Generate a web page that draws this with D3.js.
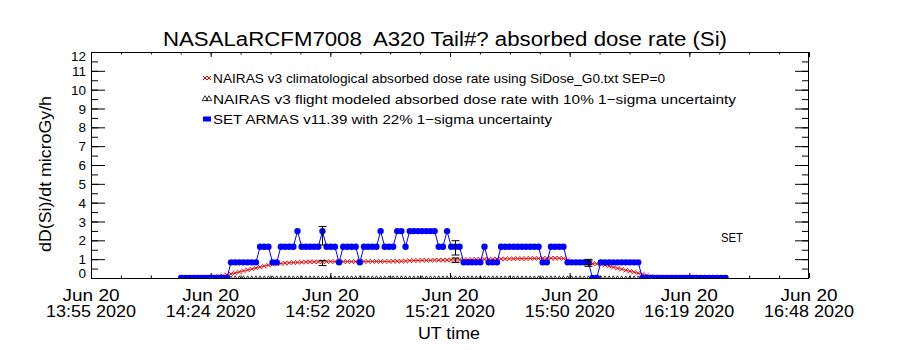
<!DOCTYPE html>
<html>
<head>
<meta charset="utf-8">
<script src="https://cdn.jsdelivr.net/npm/d3@7"></script>
<style>
  html, body { margin: 0; padding: 0; background: #fff; }
  svg { display: block; }
  text { font-family: "Liberation Sans", "DejaVu Sans", sans-serif; fill: #000; }
</style>
</head>
<body>
<svg id="chart" width="900" height="350"></svg>
<script>
// ---- Data -------------------------------------------------------------
// One record per minute, starting 14:17 UT (minutes of day)
const sampleStart = 14 * 60 + 17;
const sampleStep = 1;

// SET ARMAS absorbed dose rate (microGy/h)
const setDose = [
  0, 0, 0, 0, 0, 0, 0, 0, 0, 0, 0, 0,
  0.83, 0.83, 0.83, 0.83, 0.83, 0.83, 0.83,
  1.66, 1.66, 1.66,
  0.83, 0.83,
  1.66, 1.66, 1.66, 1.66,
  2.49,
  1.66, 1.66, 1.66, 1.66, 1.66,
  2.49,
  1.66, 1.66, 1.66,
  0.83,
  1.66, 1.66, 1.66, 1.66,
  0.83,
  1.66, 1.66, 1.66, 1.66,
  2.49,
  1.66, 1.66, 1.66,
  2.49, 2.49,
  1.66,
  2.49, 2.49, 2.49, 2.49, 2.49, 2.49, 2.49,
  1.66, 1.66,
  2.49,
  1.66, 1.66, 1.66,
  0.83, 0.83, 0.83, 0.83, 0.83,
  1.66,
  0.83, 0.83, 0.83,
  1.66, 1.66, 1.66, 1.66, 1.66, 1.66, 1.66, 1.66, 1.66, 1.66,
  0.83, 0.83,
  1.66, 1.66, 1.66, 1.66,
  0.83, 0.83, 0.83, 0.83, 0.83, 0.83,
  0, 0,
  0.83, 0.83, 0.83, 0.83, 0.83, 0.83, 0.83, 0.83, 0.83, 0.83,
  0, 0, 0, 0, 0, 0, 0, 0, 0, 0, 0, 0, 0, 0, 0, 0, 0, 0, 0, 0, 0
];

// NAIRAS v3 climatological absorbed dose rate (microGy/h)
const nairasClim = [
  0.04, 0.04, 0.04, 0.05, 0.05, 0.05, 0.05, 0.06, 0.07, 0.09,
  0.12, 0.17, 0.22, 0.27, 0.32, 0.38, 0.43, 0.48, 0.53, 0.58, 0.63, 0.68, 0.72,
  0.75, 0.77, 0.79, 0.81, 0.82, 0.83, 0.84, 0.85,
  0.86, 0.86, 0.86, 0.86, 0.87, 0.87, 0.87, 0.87, 0.87, 0.87, 0.87, 0.87,
  0.88, 0.88, 0.88, 0.88, 0.88, 0.88, 0.88, 0.88, 0.89, 0.89, 0.89, 0.90,
  0.92, 0.93, 0.93, 0.94, 0.94, 0.94, 0.95, 0.95, 0.95, 0.95, 0.96, 0.96, 0.96, 0.97,
  0.98, 0.98, 0.99, 0.99, 1.00, 1.00, 1.00, 1.01, 1.01, 1.01,
  1.02, 1.02, 1.03, 1.03, 1.03, 1.04, 1.04, 1.04, 1.05, 1.05,
  1.05, 1.05, 1.05, 1.04,
  0.95, 0.86, 0.84, 0.82, 0.80, 0.79, 0.77, 0.75, 0.73, 0.68, 0.63,
  0.57, 0.52, 0.47, 0.41, 0.36, 0.31, 0.26, 0.20, 0.15, 0.10, 0.07,
  0.05, 0.05, 0.05, 0.05, 0.05, 0.05, 0.05, 0.05, 0.05,
  0.04, 0.04, 0.04, 0.04, 0.04, 0.04, 0.04, 0.04
];

// NAIRAS v3 flight modeled absorbed dose rate (microGy/h)
const nairasFlight = [
  0, 0, 0, 0, 0, 0, 0, 0, 0, 0, 0, 0, 0, 0, 0, 0, 0, 0, 0, 0, 0, 0,
  0, 0, 0, 0, 0, 0, 0, 0, 0, 0, 0, 0, 0, 0, 0, 0, 0, 0, 0, 0, 0, 0,
  0, 0, 0, 0, 0, 0, 0, 0, 0, 0, 0, 0, 0, 0, 0, 0, 0, 0, 0, 0, 0, 0,
  0, 0, 0, 0, 0, 0, 0, 0, 0, 0, 0, 0, 0, 0, 0, 0, 0, 0, 0, 0, 0, 0,
  0, 0, 0, 0, 0, 0, 0, 0, 0, 0, 0, 0, 0, 0, 0, 0, 0, 0, 0, 0, 0, 0,
  0, 0, 0, 0, 0, 0, 0, 0, 0, 0, 0, 0, 0, 0, 0, 0, 0, 0, 0, 0, 0, 0
];

// Uncertainty bars, drawn at these record indices
const errIndex = [34, 66, 98];
const setErrLow = [1.75, 1.22, 0.62];
const setErrHigh = [2.73, 1.98, 0.99];
const flightErrLow = [0.66, 0.82, 0.72];
const flightErrHigh = [0.93, 1.06, 0.90];

// Axis range (minutes of day) and tick labels
const timeStart = 13 * 60 + 55 + 18 / 60;
const timeEnd = 16 * 60 + 48 + 6 / 60;
const xTickDates = ["Jun 20", "Jun 20", "Jun 20", "Jun 20", "Jun 20", "Jun 20", "Jun 20"];
const xTickTimes = ["13:55 2020", "14:24 2020", "14:52 2020", "15:21 2020", "15:50 2020", "16:19 2020", "16:48 2020"];
const yTickValues = [0, 1, 2, 3, 4, 5, 6, 7, 8, 9, 10, 11, 12];

const titleText = "NASALaRCFM7008  A320 Tail#? absorbed dose rate (Si)";
const legendLabels = [
  "NAIRAS v3 climatological absorbed dose rate using SiDose_G0.txt SEP=0",
  "NAIRAS v3 flight modeled absorbed dose rate with 10% 1\u2212sigma uncertainty",
  "SET ARMAS v11.39 with 22% 1\u2212sigma uncertainty"
];

// ---- Layout -----------------------------------------------------------
const plot = { left: 91, right: 809, top: 52, bottom: 278 };
const svg = d3.select("#chart");

const x = d3.scaleLinear().domain([timeStart, timeEnd]).range([plot.left, plot.right]);
const y = d3.scaleLinear().domain([0, 12]).range([plot.bottom, plot.top]);

const sampleTime = i => sampleStart + i * sampleStep;

svg.append("defs").append("clipPath").attr("id", "plotClip")
  .append("rect")
  .attr("x", plot.left).attr("y", plot.top)
  .attr("width", plot.right - plot.left).attr("height", plot.bottom - plot.top);

// ---- Axes -------------------------------------------------------------
const nMajor = xTickTimes.length - 1;
const xMajor = d3.range(nMajor + 1).map(i => timeStart + i * (timeEnd - timeStart) / nMajor);
const xMinor = d3.range(nMajor * 4 + 1).map(i => timeStart + i * (timeEnd - timeStart) / (nMajor * 4));
const yMinor = d3.range(0, 12.01, 0.5);

function styleAxis(g) {
  g.select(".domain").remove();
  g.selectAll("line").attr("stroke", "#000").attr("stroke-width", 1);
  g.selectAll("text").remove();
}

svg.append("g").attr("transform", `translate(0,${plot.bottom})`)
  .call(d3.axisTop(x).tickValues(xMinor).tickSize(2.5)).call(styleAxis);
svg.append("g").attr("transform", `translate(0,${plot.bottom})`)
  .call(d3.axisTop(x).tickValues(xMajor).tickSize(5)).call(styleAxis);
svg.append("g").attr("transform", `translate(0,${plot.top})`)
  .call(d3.axisBottom(x).tickValues(xMinor).tickSize(2.5)).call(styleAxis);
svg.append("g").attr("transform", `translate(0,${plot.top})`)
  .call(d3.axisBottom(x).tickValues(xMajor).tickSize(5)).call(styleAxis);

svg.append("g").attr("transform", `translate(${plot.left},0)`)
  .call(d3.axisRight(y).tickValues(yMinor).tickSize(7)).call(styleAxis);
svg.append("g").attr("transform", `translate(${plot.left},0)`)
  .call(d3.axisRight(y).tickValues(yTickValues).tickSize(14)).call(styleAxis);
svg.append("g").attr("transform", `translate(${plot.right},0)`)
  .call(d3.axisLeft(y).tickValues(yMinor).tickSize(7)).call(styleAxis);
svg.append("g").attr("transform", `translate(${plot.right},0)`)
  .call(d3.axisLeft(y).tickValues(yTickValues).tickSize(14)).call(styleAxis);

svg.append("rect")
  .attr("x", plot.left + 0.5).attr("y", plot.top + 0.5)
  .attr("width", plot.right - plot.left - 1).attr("height", plot.bottom - plot.top)
  .attr("fill", "none").attr("stroke", "#000").attr("stroke-width", 1);

// y tick labels (kept inside the frame height at the ends)
svg.append("g").selectAll("text").data(yTickValues).join("text")
  .attr("x", 86)
  .attr("y", d => Math.min(273, Math.max(56, y(d))) + 5)
  .attr("text-anchor", "end")
  .attr("font-size", 13.5)
  .text(d => d);

// x tick labels, two lines each
const xl = svg.append("g");
xl.selectAll("text.date").data(xMajor).join("text").attr("class", "date")
  .attr("x", d => x(d)).attr("y", 301)
  .attr("text-anchor", "middle").attr("font-size", 16)
  .attr("textLength", 57).attr("lengthAdjust", "spacingAndGlyphs")
  .text((d, i) => xTickDates[i]);
xl.selectAll("text.time").data(xMajor).join("text").attr("class", "time")
  .attr("x", d => x(d)).attr("y", 317)
  .attr("text-anchor", "middle").attr("font-size", 16)
  .attr("textLength", 90).attr("lengthAdjust", "spacingAndGlyphs")
  .text((d, i) => xTickTimes[i]);

svg.append("text")
  .attr("x", 449).attr("y", 339)
  .attr("text-anchor", "middle").attr("font-size", 16)
  .attr("textLength", 62).attr("lengthAdjust", "spacingAndGlyphs")
  .text("UT time");

svg.append("text")
  .attr("transform", "translate(51,174) rotate(-90)")
  .attr("text-anchor", "middle").attr("font-size", 16)
  .attr("textLength", 156).attr("lengthAdjust", "spacingAndGlyphs")
  .text("dD(Si)/dt microGy/h");

svg.append("text")
  .attr("x", 445).attr("y", 46)
  .attr("text-anchor", "middle").attr("font-size", 20)
  .style("white-space", "pre")
  .attr("textLength", 564).attr("lengthAdjust", "spacingAndGlyphs")
  .text(titleText);

// ---- Series -----------------------------------------------------------
const data = d3.range(setDose.length).map(i => ({
  t: sampleTime(i), set: setDose[i], clim: nairasClim[i], flight: nairasFlight[i]
}));

const layer = svg.append("g").attr("clip-path", "url(#plotClip)");

// climatological: red line with x symbols
layer.append("path").datum(data)
  .attr("d", d3.line().x(d => x(d.t)).y(d => y(d.clim)))
  .attr("fill", "none").attr("stroke", "#e00000").attr("stroke-width", 0.8);
layer.append("g").selectAll("path").data(data).join("path")
  .attr("transform", d => `translate(${x(d.t)},${y(d.clim)})`)
  .attr("d", "M-2.2,-2.2L2.2,2.2M-2.2,2.2L2.2,-2.2")
  .attr("stroke", "#e00000").attr("stroke-width", 0.9).attr("fill", "none");

// flight modeled: black triangles
const tri = d3.symbol().type(d3.symbolTriangle).size(6);
layer.append("g").selectAll("path").data(data).join("path")
  .attr("transform", d => `translate(${x(d.t)},${y(d.flight)})`)
  .attr("d", tri())
  .attr("fill", "none").attr("stroke", "#000").attr("stroke-width", 0.8);

// SET ARMAS: blue line with filled dots
layer.append("path").datum(data)
  .attr("d", d3.line().x(d => x(d.t)).y(d => y(d.set)))
  .attr("fill", "none").attr("stroke", "#0000ff").attr("stroke-width", 1);
layer.append("g").selectAll("circle").data(data).join("circle")
  .attr("cx", d => x(d.t)).attr("cy", d => y(d.set)).attr("r", 3.2)
  .attr("fill", "#0000ff");

// uncertainty bars
function errorBars(lo, hi) {
  const g = svg.append("g").attr("stroke", "#000").attr("stroke-width", 1);
  errIndex.forEach((k, i) => {
    const cx = Math.round(x(sampleTime(k))) + 0.5;
    const y0 = y(lo[i]), y1 = y(hi[i]);
    g.append("line").attr("x1", cx).attr("x2", cx).attr("y1", y0).attr("y2", y1);
    g.append("line").attr("x1", cx - 4).attr("x2", cx + 4).attr("y1", y0).attr("y2", y0);
    g.append("line").attr("x1", cx - 4).attr("x2", cx + 4).attr("y1", y1).attr("y2", y1);
  });
}
errorBars(flightErrLow, flightErrHigh);
errorBars(setErrLow, setErrHigh);

// ---- Legend -----------------------------------------------------------
const legY = [78, 99, 119];
const leg = svg.append("g");
leg.selectAll("text").data(legendLabels).join("text")
  .attr("x", 213).attr("y", (d, i) => legY[i] + 4.5)
  .attr("font-size", 13)
  .attr("textLength", (d, i) => [452, 523, 339][i])
  .attr("lengthAdjust", "spacingAndGlyphs")
  .text(d => d);
[205, 209].forEach(cx => {
  leg.append("path")
    .attr("transform", `translate(${cx},${legY[0]})`)
    .attr("d", "M-2,-2L2,2M-2,2L2,-2")
    .attr("stroke", "#e00000").attr("stroke-width", 1).attr("fill", "none");
  leg.append("path")
    .attr("transform", `translate(${cx},${legY[1]})`)
    .attr("d", d3.symbol().type(d3.symbolTriangle).size(14)())
    .attr("stroke", "#000").attr("stroke-width", 0.8).attr("fill", "none");
});
leg.append("rect").attr("x", 203).attr("y", legY[2] - 2.5).attr("width", 8).attr("height", 5)
  .attr("fill", "#0000ff");

svg.append("text")
  .attr("x", 721).attr("y", 242)
  .attr("font-size", 13)
  .attr("textLength", 22).attr("lengthAdjust", "spacingAndGlyphs")
  .text("SET");
</script>
</body>
</html>
